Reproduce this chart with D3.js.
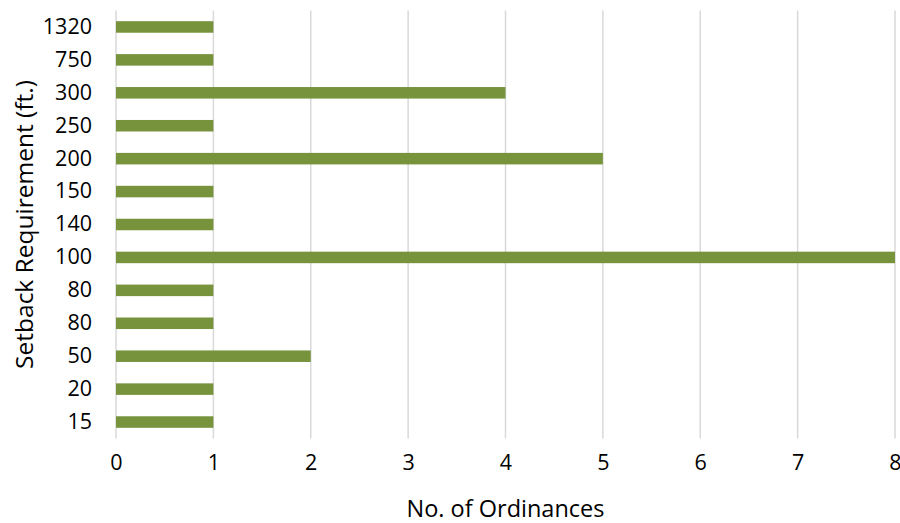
<!DOCTYPE html>
<html>
<head>
<meta charset="utf-8">
<script src="https://cdn.jsdelivr.net/npm/d3@7"></script>
<style>
  html, body { margin: 0; padding: 0; background: #fff; }
  svg text { font-family: "Open Sans", sans-serif; fill: #000; }
</style>
</head>
<body>
<svg id="chart" width="900" height="523"></svg>
<script>
// Setback categories, listed bottom to top
const setbacks = ["15", "20", "50", "80", "80", "100", "140", "150", "200", "250", "300", "750", "1320"];
// Number of ordinances for each setback
const ordinances = [1, 1, 2, 1, 1, 8, 1, 1, 5, 1, 4, 1, 1];
const xTicks = [0, 1, 2, 3, 4, 5, 6, 7, 8];

const svg = d3.select("#chart");
const margin = { left: 116, right: 5, top: 10.5, bottom: 84.5 };
const W = 900, H = 523;
const tickFont = 21.5;

const x = d3.scaleLinear().domain([0, 8]).range([margin.left, W - margin.right]);
// Index-based band scale so repeated labels keep separate rows
const idx = setbacks.map((_, i) => i);
const y = d3.scaleBand().domain(idx).range([H - margin.bottom, margin.top]).paddingInner(0.65).paddingOuter(0.325);

// Vertical gridlines
svg.append("g")
  .selectAll("line")
  .data(xTicks)
  .join("line")
  .attr("x1", d => x(d)).attr("x2", d => x(d))
  .attr("y1", margin.top).attr("y2", H - margin.bottom)
  .attr("stroke", "#d9d9d9").attr("stroke-width", 1.5);

// Bars
svg.append("g")
  .selectAll("rect")
  .data(idx)
  .join("rect")
  .attr("x", x(0))
  .attr("y", i => y(i))
  .attr("width", i => x(ordinances[i]) - x(0))
  .attr("height", y.bandwidth())
  .attr("fill", "#77933C");

// Category labels
const yAxis = d3.axisLeft(y).tickSize(0).tickPadding(0).tickFormat(i => setbacks[i]);
const gy = svg.append("g").attr("transform", `translate(${margin.left - 24},0)`).call(yAxis);
gy.select(".domain").remove();
gy.selectAll("text").attr("font-size", tickFont).attr("font-family", "Open Sans, sans-serif").attr("fill", "#000");

// Value axis labels
const xAxis = d3.axisBottom(x).tickValues(xTicks).tickSize(0).tickPadding(0).tickFormat(d3.format("d"));
const gx = svg.append("g").attr("transform", `translate(0,${H - margin.bottom + 16})`).call(xAxis);
gx.select(".domain").remove();
gx.selectAll("text").attr("font-size", tickFont).attr("font-family", "Open Sans, sans-serif").attr("fill", "#000");

// Axis titles
svg.append("text")
  .attr("x", 505.5)
  .attr("y", 517)
  .attr("text-anchor", "middle")
  .attr("font-size", 23.5)
  .text("No. of Ordinances");

svg.append("text")
  .attr("transform", `translate(33,${(margin.top + H - margin.bottom) / 2}) rotate(-90)`)
  .attr("text-anchor", "middle")
  .attr("font-size", 24.5)
  .text("Setback Requirement (ft.)");
</script>
</body>
</html>
